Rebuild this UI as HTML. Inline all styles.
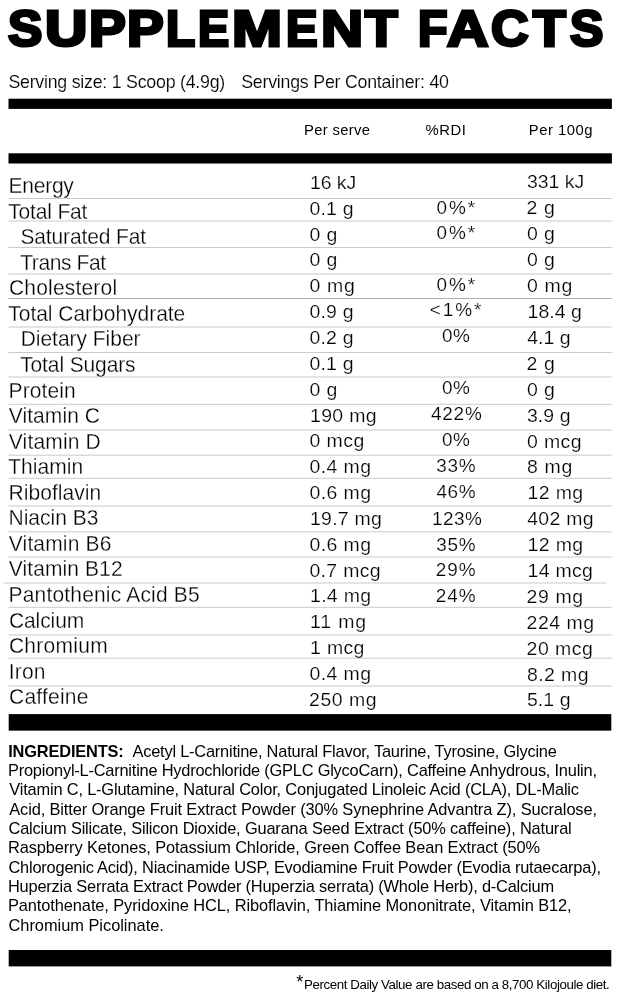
<!DOCTYPE html>
<html lang="en"><head><meta charset="utf-8"><title>Supplement Facts</title>
<style>
html,body{margin:0;padding:0;background:#fff;}
body{width:620px;height:1000px;position:relative;overflow:hidden;font-family:'Liberation Sans', sans-serif;color:#000;}
.t{position:absolute;white-space:nowrap;line-height:1;margin:0;transform-origin:0 0;-webkit-text-stroke:0.3px #fff;}
.ttl{position:absolute;left:0;margin:0;font-weight:700;line-height:1;color:#000;white-space:nowrap;width:620px;height:52px}
.ttl span{position:absolute;top:0;transform-origin:0 0;display:block}
.g{position:absolute;left:0;top:0;display:block}

</style></head><body>
<svg class="g" width="620" height="1000" viewBox="0 0 620 1000" aria-hidden="true"><rect x="8.5" y="98.70" width="603.40" height="10.20" fill="#000"/><rect x="8.5" y="153.30" width="603.40" height="10.20" fill="#000"/><rect x="8.7" y="714.10" width="602.60" height="16.55" fill="#000"/><rect x="8.7" y="950.00" width="602.60" height="16.40" fill="#000"/><rect x="8.5" y="198.00" width="603.30" height="1" fill="#cacaca"/><rect x="8.5" y="220.50" width="603.30" height="1" fill="#cacaca"/><rect x="8.5" y="247.00" width="603.30" height="1" fill="#cacaca"/><rect x="8.5" y="273.50" width="603.30" height="1" fill="#cacaca"/><rect x="8.5" y="298.00" width="603.30" height="1" fill="#adadad"/><rect x="8.5" y="326.50" width="603.30" height="1" fill="#cacaca"/><rect x="8.5" y="352.00" width="603.30" height="1" fill="#cacaca"/><rect x="8.5" y="376.50" width="603.30" height="1" fill="#cacaca"/><rect x="8.5" y="403.80" width="603.30" height="1" fill="#cacaca"/><rect x="8.5" y="429.50" width="603.30" height="1" fill="#cacaca"/><rect x="8.5" y="454.70" width="603.30" height="1" fill="#cacaca"/><rect x="8.5" y="477.80" width="603.30" height="1" fill="#cacaca"/><rect x="8.5" y="505.50" width="603.30" height="1" fill="#cacaca"/><rect x="8.5" y="531.30" width="603.30" height="1" fill="#cacaca"/><rect x="8.5" y="556.50" width="603.30" height="1" fill="#cacaca"/><rect x="3.5" y="582.50" width="602.70" height="1" fill="#cacaca"/><rect x="8.5" y="606.80" width="603.30" height="1" fill="#cacaca"/><rect x="8.5" y="634.50" width="603.30" height="1" fill="#cacaca"/><rect x="8.5" y="657.70" width="603.30" height="1" fill="#cacaca"/><rect x="8.5" y="685.50" width="603.30" height="1" fill="#cacaca"/></svg>
<h1 class="ttl" style="top:4.10px;font-size:50.5px;-webkit-text-stroke:3.0px #000"><span style="left:7.68px;transform:scaleX(1.0201)">S</span><span style="left:45.06px;transform:scaleX(1.1625)">U</span><span style="left:88.95px;transform:scaleX(1.0941)">P</span><span style="left:127.15px;transform:scaleX(1.0909)">P</span><span style="left:165.63px;transform:scaleX(0.9455)">L</span><span style="left:198.27px;transform:scaleX(0.9243)">E</span><span style="left:232.47px;transform:scaleX(1.1883)">M</span><span style="left:285.94px;transform:scaleX(0.9371)">E</span><span style="left:320.54px;transform:scaleX(1.1542)">N</span><span style="left:364.83px;transform:scaleX(1.0575)">T</span> <span style="left:417.61px;transform:scaleX(0.9572)">F</span><span style="left:446.99px;transform:scaleX(1.1357)">A</span><span style="left:491.46px;transform:scaleX(1.0282)">C</span><span style="left:532.53px;transform:scaleX(1.0636)">T</span><span style="left:569.57px;transform:scaleX(0.9903)">S</span></h1>
<div class="t" style="left:8px;text-indent:0.44px;top:74px;font-size:17.8px;letter-spacing:-0.245px;-webkit-text-stroke-width:0.15px">Serving size: 1 Scoop (4.9g)</div>
<div class="t" style="left:241px;text-indent:0.19px;top:74px;font-size:17.8px;letter-spacing:-0.229px;-webkit-text-stroke-width:0.15px">Servings Per Container: 40</div>
<div class="t" style="left:304px;text-indent:0.04px;top:122px;font-size:15.3px;letter-spacing:0.303px;transform:scaleX(0.97);-webkit-text-stroke-width:0px">Per serve</div>
<div class="t" style="left:425px;text-indent:0.55px;top:122px;font-size:15.3px;letter-spacing:0.533px;transform:scaleX(0.97);-webkit-text-stroke-width:0px">%RDI</div>
<div class="t" style="left:528px;text-indent:0.76px;top:122px;font-size:15.3px;letter-spacing:0.539px;transform:scaleX(0.97);-webkit-text-stroke-width:0px">Per 100g</div>
<div class="t" style="left:8px;text-indent:0.49px;top:175px;font-size:22.6px;letter-spacing:-0.248px;transform:scaleX(0.93)">Energy</div>
<div class="t" style="left:310px;text-indent:0.03px;top:174px;font-size:18.2px;letter-spacing:-0.084px;transform:scaleX(1.07);-webkit-text-stroke-width:0.2px">16 kJ</div>
<div class="t" style="left:526px;text-indent:0.83px;top:173px;font-size:18.2px;letter-spacing:-0.009px;transform:scaleX(1.07);-webkit-text-stroke-width:0.2px">331 kJ</div>
<div class="t" style="left:8px;text-indent:0.29px;top:201px;font-size:22.6px;letter-spacing:-0.194px;transform:scaleX(0.93)">Total Fat</div>
<div class="t" style="left:309px;text-indent:0.37px;top:200px;font-size:18.2px;letter-spacing:0.208px;transform:scaleX(1.07);-webkit-text-stroke-width:0.2px">0.1 g</div>
<div class="t" style="left:436px;text-indent:0.40px;top:199px;font-size:18.4px;letter-spacing:1.987px;transform:scaleX(1.03);-webkit-text-stroke-width:0.2px">0%*</div>
<div class="t" style="left:526px;text-indent:0.55px;top:199px;font-size:18.2px;letter-spacing:0.554px;transform:scaleX(1.07);-webkit-text-stroke-width:0.2px">2 g</div>
<div class="t" style="left:20px;text-indent:0.48px;top:226px;font-size:22.6px;letter-spacing:-0.145px;transform:scaleX(0.93)">Saturated Fat</div>
<div class="t" style="left:309px;text-indent:0.37px;top:226px;font-size:18.2px;letter-spacing:0.411px;transform:scaleX(1.07);-webkit-text-stroke-width:0.2px">0 g</div>
<div class="t" style="left:436px;text-indent:0.40px;top:224px;font-size:18.4px;letter-spacing:1.987px;transform:scaleX(1.03);-webkit-text-stroke-width:0.2px">0%*</div>
<div class="t" style="left:526px;text-indent:0.83px;top:225px;font-size:18.2px;letter-spacing:0.411px;transform:scaleX(1.07);-webkit-text-stroke-width:0.2px">0 g</div>
<div class="t" style="left:20px;text-indent:0.18px;top:252px;font-size:22.6px;letter-spacing:-0.423px;transform:scaleX(0.93)">Trans Fat</div>
<div class="t" style="left:309px;text-indent:0.37px;top:251px;font-size:18.2px;letter-spacing:0.411px;transform:scaleX(1.07);-webkit-text-stroke-width:0.2px">0 g</div>
<div class="t" style="left:526px;text-indent:0.83px;top:251px;font-size:18.2px;letter-spacing:0.411px;transform:scaleX(1.07);-webkit-text-stroke-width:0.2px">0 g</div>
<div class="t" style="left:8px;text-indent:0.98px;top:277px;font-size:22.6px;letter-spacing:0.205px;transform:scaleX(0.93)">Cholesterol</div>
<div class="t" style="left:309px;text-indent:0.37px;top:277px;font-size:18.2px;letter-spacing:0.672px;transform:scaleX(1.07);-webkit-text-stroke-width:0.2px">0 mg</div>
<div class="t" style="left:436px;text-indent:0.40px;top:276px;font-size:18.4px;letter-spacing:1.987px;transform:scaleX(1.03);-webkit-text-stroke-width:0.2px">0%*</div>
<div class="t" style="left:526px;text-indent:0.83px;top:277px;font-size:18.2px;letter-spacing:0.672px;transform:scaleX(1.07);-webkit-text-stroke-width:0.2px">0 mg</div>
<div class="t" style="left:8px;text-indent:0.29px;top:303px;font-size:22.6px;letter-spacing:-0.032px;transform:scaleX(0.93)">Total Carbohydrate</div>
<div class="t" style="left:309px;text-indent:0.37px;top:303px;font-size:18.2px;letter-spacing:0.208px;transform:scaleX(1.07);-webkit-text-stroke-width:0.2px">0.9 g</div>
<div class="t" style="left:429px;text-indent:0.84px;top:301px;font-size:18.4px;letter-spacing:1.884px;transform:scaleX(1.03);-webkit-text-stroke-width:0.2px">&lt;1%*</div>
<div class="t" style="left:527px;text-indent:0.50px;top:303px;font-size:18.2px;letter-spacing:0.031px;transform:scaleX(1.07);-webkit-text-stroke-width:0.2px">18.4 g</div>
<div class="t" style="left:20px;text-indent:0.71px;top:328px;font-size:22.6px;letter-spacing:-0.032px;transform:scaleX(0.93)">Dietary Fiber</div>
<div class="t" style="left:309px;text-indent:0.37px;top:329px;font-size:18.2px;letter-spacing:0.208px;transform:scaleX(1.07);-webkit-text-stroke-width:0.2px">0.2 g</div>
<div class="t" style="left:441px;text-indent:0.88px;top:327px;font-size:18.4px;letter-spacing:0.500px;transform:scaleX(1.03);-webkit-text-stroke-width:0.2px">0%</div>
<div class="t" style="left:527px;text-indent:0.18px;top:329px;font-size:18.2px;letter-spacing:0.020px;transform:scaleX(1.07);-webkit-text-stroke-width:0.2px">4.1 g</div>
<div class="t" style="left:20px;text-indent:0.18px;top:354px;font-size:22.6px;letter-spacing:-0.132px;transform:scaleX(0.93)">Total Sugars</div>
<div class="t" style="left:309px;text-indent:0.37px;top:355px;font-size:18.2px;letter-spacing:0.208px;transform:scaleX(1.07);-webkit-text-stroke-width:0.2px">0.1 g</div>
<div class="t" style="left:526px;text-indent:0.55px;top:355px;font-size:18.2px;letter-spacing:0.554px;transform:scaleX(1.07);-webkit-text-stroke-width:0.2px">2 g</div>
<div class="t" style="left:8px;text-indent:0.60px;top:380px;font-size:22.6px;letter-spacing:0.095px;transform:scaleX(0.93)">Protein</div>
<div class="t" style="left:309px;text-indent:0.37px;top:381px;font-size:18.2px;letter-spacing:0.411px;transform:scaleX(1.07);-webkit-text-stroke-width:0.2px">0 g</div>
<div class="t" style="left:441px;text-indent:0.88px;top:379px;font-size:18.4px;letter-spacing:0.500px;transform:scaleX(1.03);-webkit-text-stroke-width:0.2px">0%</div>
<div class="t" style="left:526px;text-indent:0.83px;top:381px;font-size:18.2px;letter-spacing:0.411px;transform:scaleX(1.07);-webkit-text-stroke-width:0.2px">0 g</div>
<div class="t" style="left:8px;text-indent:0.86px;top:405px;font-size:22.6px;letter-spacing:0.061px;transform:scaleX(0.93)">Vitamin C</div>
<div class="t" style="left:310px;text-indent:0.03px;top:407px;font-size:18.2px;letter-spacing:0.300px;transform:scaleX(1.07);-webkit-text-stroke-width:0.2px">190 mg</div>
<div class="t" style="left:430px;text-indent:0.93px;top:405px;font-size:18.4px;letter-spacing:0.773px;transform:scaleX(1.03);-webkit-text-stroke-width:0.2px">422%</div>
<div class="t" style="left:526px;text-indent:0.83px;top:407px;font-size:18.2px;letter-spacing:0.091px;transform:scaleX(1.07);-webkit-text-stroke-width:0.2px">3.9 g</div>
<div class="t" style="left:8px;text-indent:0.86px;top:431px;font-size:22.6px;letter-spacing:0.162px;transform:scaleX(0.93)">Vitamin D</div>
<div class="t" style="left:309px;text-indent:0.37px;top:432px;font-size:18.2px;letter-spacing:0.449px;transform:scaleX(1.07);-webkit-text-stroke-width:0.2px">0 mcg</div>
<div class="t" style="left:441px;text-indent:0.88px;top:431px;font-size:18.4px;letter-spacing:0.500px;transform:scaleX(1.03);-webkit-text-stroke-width:0.2px">0%</div>
<div class="t" style="left:526px;text-indent:0.83px;top:433px;font-size:18.2px;letter-spacing:0.391px;transform:scaleX(1.07);-webkit-text-stroke-width:0.2px">0 mcg</div>
<div class="t" style="left:8px;text-indent:0.29px;top:456px;font-size:22.6px;letter-spacing:0.028px;transform:scaleX(0.93)">Thiamin</div>
<div class="t" style="left:309px;text-indent:0.37px;top:458px;font-size:18.2px;letter-spacing:0.405px;transform:scaleX(1.07);-webkit-text-stroke-width:0.2px">0.4 mg</div>
<div class="t" style="left:436px;text-indent:0.15px;top:457px;font-size:18.4px;letter-spacing:0.716px;transform:scaleX(1.03);-webkit-text-stroke-width:0.2px">33%</div>
<div class="t" style="left:526px;text-indent:0.83px;top:458px;font-size:18.2px;letter-spacing:0.672px;transform:scaleX(1.07);-webkit-text-stroke-width:0.2px">8 mg</div>
<div class="t" style="left:8px;text-indent:0.60px;top:482px;font-size:22.6px;letter-spacing:0.039px;transform:scaleX(0.93)">Riboflavin</div>
<div class="t" style="left:309px;text-indent:0.37px;top:484px;font-size:18.2px;letter-spacing:0.405px;transform:scaleX(1.07);-webkit-text-stroke-width:0.2px">0.6 mg</div>
<div class="t" style="left:436px;text-indent:0.44px;top:483px;font-size:18.4px;letter-spacing:0.572px;transform:scaleX(1.03);-webkit-text-stroke-width:0.2px">46%</div>
<div class="t" style="left:527px;text-indent:0.50px;top:484px;font-size:18.2px;letter-spacing:0.336px;transform:scaleX(1.07);-webkit-text-stroke-width:0.2px">12 mg</div>
<div class="t" style="left:8px;text-indent:0.60px;top:507px;font-size:22.6px;letter-spacing:-0.021px;transform:scaleX(0.93)">Niacin B3</div>
<div class="t" style="left:310px;text-indent:0.03px;top:510px;font-size:18.2px;letter-spacing:0.225px;transform:scaleX(1.07);-webkit-text-stroke-width:0.2px">19.7 mg</div>
<div class="t" style="left:432px;text-indent:0.06px;top:510px;font-size:18.4px;letter-spacing:0.413px;transform:scaleX(1.03);-webkit-text-stroke-width:0.2px">123%</div>
<div class="t" style="left:527px;text-indent:0.18px;top:510px;font-size:18.2px;letter-spacing:0.270px;transform:scaleX(1.07);-webkit-text-stroke-width:0.2px">402 mg</div>
<div class="t" style="left:8px;text-indent:0.86px;top:533px;font-size:22.6px;letter-spacing:0.155px;transform:scaleX(0.93)">Vitamin B6</div>
<div class="t" style="left:309px;text-indent:0.37px;top:536px;font-size:18.2px;letter-spacing:0.405px;transform:scaleX(1.07);-webkit-text-stroke-width:0.2px">0.6 mg</div>
<div class="t" style="left:436px;text-indent:0.15px;top:536px;font-size:18.4px;letter-spacing:0.716px;transform:scaleX(1.03);-webkit-text-stroke-width:0.2px">35%</div>
<div class="t" style="left:527px;text-indent:0.50px;top:536px;font-size:18.2px;letter-spacing:0.336px;transform:scaleX(1.07);-webkit-text-stroke-width:0.2px">12 mg</div>
<div class="t" style="left:8px;text-indent:0.86px;top:558px;font-size:22.6px;letter-spacing:0.093px;transform:scaleX(0.93)">Vitamin B12</div>
<div class="t" style="left:309px;text-indent:0.37px;top:562px;font-size:18.2px;letter-spacing:0.301px;transform:scaleX(1.07);-webkit-text-stroke-width:0.2px">0.7 mcg</div>
<div class="t" style="left:435px;text-indent:0.84px;top:561px;font-size:18.4px;letter-spacing:0.860px;transform:scaleX(1.03);-webkit-text-stroke-width:0.2px">29%</div>
<div class="t" style="left:527px;text-indent:0.50px;top:562px;font-size:18.2px;letter-spacing:0.271px;transform:scaleX(1.07);-webkit-text-stroke-width:0.2px">14 mcg</div>
<div class="t" style="left:8px;text-indent:0.60px;top:584px;font-size:22.6px;letter-spacing:0.180px;transform:scaleX(0.93)">Pantothenic Acid B5</div>
<div class="t" style="left:310px;text-indent:0.03px;top:587px;font-size:18.2px;letter-spacing:0.285px;transform:scaleX(1.07);-webkit-text-stroke-width:0.2px">1.4 mg</div>
<div class="t" style="left:435px;text-indent:0.84px;top:587px;font-size:18.4px;letter-spacing:0.860px;transform:scaleX(1.03);-webkit-text-stroke-width:0.2px">24%</div>
<div class="t" style="left:526px;text-indent:0.55px;top:588px;font-size:18.2px;letter-spacing:0.557px;transform:scaleX(1.07);-webkit-text-stroke-width:0.2px">29 mg</div>
<div class="t" style="left:8px;text-indent:0.98px;top:610px;font-size:22.6px;letter-spacing:-0.088px;transform:scaleX(0.93)">Calcium</div>
<div class="t" style="left:310px;text-indent:0.03px;top:613px;font-size:18.2px;letter-spacing:0.790px;transform:scaleX(1.07);-webkit-text-stroke-width:0.2px">11 mg</div>
<div class="t" style="left:526px;text-indent:0.55px;top:614px;font-size:18.2px;letter-spacing:0.477px;transform:scaleX(1.07);-webkit-text-stroke-width:0.2px">224 mg</div>
<div class="t" style="left:8px;text-indent:0.98px;top:635px;font-size:22.6px;letter-spacing:0.306px;transform:scaleX(0.93)">Chromium</div>
<div class="t" style="left:310px;text-indent:0.03px;top:639px;font-size:18.2px;letter-spacing:0.299px;transform:scaleX(1.07);-webkit-text-stroke-width:0.2px">1 mcg</div>
<div class="t" style="left:526px;text-indent:0.55px;top:640px;font-size:18.2px;letter-spacing:0.448px;transform:scaleX(1.07);-webkit-text-stroke-width:0.2px">20 mcg</div>
<div class="t" style="left:8px;text-indent:0.92px;top:661px;font-size:22.6px;letter-spacing:0.127px;transform:scaleX(0.93)">Iron</div>
<div class="t" style="left:309px;text-indent:0.37px;top:665px;font-size:18.2px;letter-spacing:0.405px;transform:scaleX(1.07);-webkit-text-stroke-width:0.2px">0.4 mg</div>
<div class="t" style="left:526px;text-indent:0.83px;top:666px;font-size:18.2px;letter-spacing:0.405px;transform:scaleX(1.07);-webkit-text-stroke-width:0.2px">8.2 mg</div>
<div class="t" style="left:9px;text-indent:0.02px;top:686px;font-size:22.6px;letter-spacing:0.220px;transform:scaleX(0.93)">Caffeine</div>
<div class="t" style="left:309px;text-indent:0.08px;top:691px;font-size:18.2px;letter-spacing:0.477px;transform:scaleX(1.07);-webkit-text-stroke-width:0.2px">250 mg</div>
<div class="t" style="left:526px;text-indent:0.83px;top:691px;font-size:18.2px;letter-spacing:0.091px;transform:scaleX(1.07);-webkit-text-stroke-width:0.2px">5.1 g</div>
<div class="t" style="left:8px;text-indent:0.22px;top:743px;font-size:16.4px;letter-spacing:-0.173px;font-weight:700;-webkit-text-stroke-width:0px">INGREDIENTS:</div>
<div class="t" style="left:132px;text-indent:0.50px;top:743px;font-size:16.4px;letter-spacing:-0.217px;-webkit-text-stroke-width:0px">Acetyl L-Carnitine, Natural Flavor, Taurine, Tyrosine, Glycine</div>
<div class="t" style="left:7px;text-indent:0.97px;top:762px;font-size:16.4px;letter-spacing:-0.218px;-webkit-text-stroke-width:0px">Propionyl-L-Carnitine Hydrochloride (GPLC GlycoCarn), Caffeine Anhydrous, Inulin,</div>
<div class="t" style="left:9px;text-indent:0.25px;top:781px;font-size:16.4px;letter-spacing:-0.178px;-webkit-text-stroke-width:0px">Vitamin C, L-Glutamine, Natural Color, Conjugated Linoleic Acid (CLA), DL-Malic</div>
<div class="t" style="left:9px;text-indent:0.25px;top:801px;font-size:16.4px;letter-spacing:-0.125px;-webkit-text-stroke-width:0px">Acid, Bitter Orange Fruit Extract Powder (30% Synephrine Advantra Z), Sucralose,</div>
<div class="t" style="left:8px;text-indent:0.48px;top:820px;font-size:16.4px;letter-spacing:-0.168px;-webkit-text-stroke-width:0px">Calcium Silicate, Silicon Dioxide, Guarana Seed Extract (50% caffeine), Natural</div>
<div class="t" style="left:7px;text-indent:0.97px;top:839px;font-size:16.4px;letter-spacing:-0.114px;-webkit-text-stroke-width:0px">Raspberry Ketones, Potassium Chloride, Green Coffee Bean Extract (50%</div>
<div class="t" style="left:8px;text-indent:0.48px;top:859px;font-size:16.4px;letter-spacing:-0.211px;-webkit-text-stroke-width:0px">Chlorogenic Acid), Niacinamide USP, Evodiamine Fruit Powder (Evodia rutaecarpa),</div>
<div class="t" style="left:7px;text-indent:0.97px;top:878px;font-size:16.4px;letter-spacing:-0.206px;-webkit-text-stroke-width:0px">Huperzia Serrata Extract Powder (Huperzia serrata) (Whole Herb), d-Calcium</div>
<div class="t" style="left:7px;text-indent:0.97px;top:897px;font-size:16.4px;letter-spacing:-0.094px;-webkit-text-stroke-width:0px">Pantothenate, Pyridoxine HCL, Riboflavin, Thiamine Mononitrate, Vitamin B12,</div>
<div class="t" style="left:8px;text-indent:0.48px;top:917px;font-size:16.4px;letter-spacing:-0.019px;-webkit-text-stroke-width:0px">Chromium Picolinate.</div>
<div class="t" style="left:296px;text-indent:0.32px;top:973px;font-size:18px;letter-spacing:0.000px;-webkit-text-stroke-width:0px">*</div>
<div class="t" style="left:303px;text-indent:0.96px;top:978px;font-size:13.3px;letter-spacing:-0.402px;-webkit-text-stroke-width:0px">Percent Daily Value are based on a 8,700 Kilojoule diet.</div>
</body></html>
